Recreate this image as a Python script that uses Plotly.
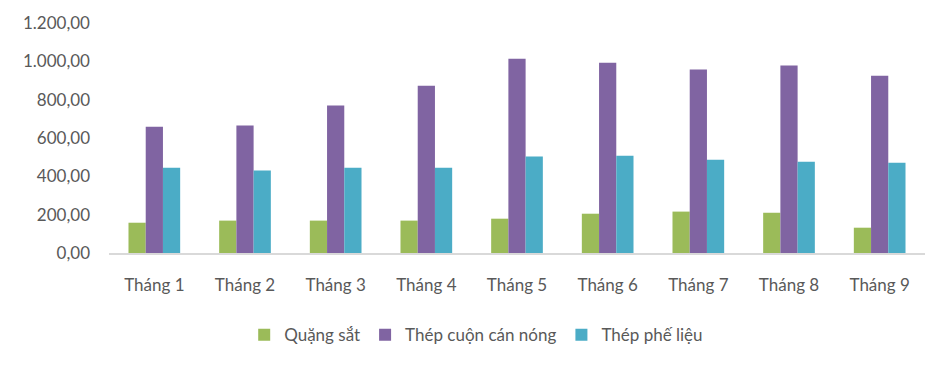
import plotly.graph_objects as go

months = ["Tháng 1", "Tháng 2", "Tháng 3", "Tháng 4", "Tháng 5", "Tháng 6", "Tháng 7", "Tháng 8", "Tháng 9"]
quang_sat = [158, 169, 169, 169, 179, 205, 216, 210, 132]
thep_cuon = [659, 665, 769, 873, 1014, 993, 957, 978, 925]
thep_phe_lieu = [445, 430, 445, 445, 503, 508, 487, 476, 471]

series = [
    ("Quặng sắt", quang_sat, "#9BBB59"),
    ("Thép cuộn cán nóng", thep_cuon, "#8064A2"),
    ("Thép phế liệu", thep_phe_lieu, "#4BACC6"),
]

fig = go.Figure()
for name, vals, color in series:
    fig.add_trace(go.Bar(x=months, y=vals, name=name, marker_color=color, marker_line_width=0))

font = "Lato, 'Open Sans', sans-serif"
fig.update_layout(
    width=948, height=365,
    margin=dict(l=109, r=23, t=23, b=112, autoexpand=False),
    paper_bgcolor="white", plot_bgcolor="white",
    barmode="group", bargap=0.43, bargroupgap=0,
    separators=",.",
    font=dict(family=font, size=17, color="#595959"),
    showlegend=True,
    legend=dict(orientation="h", x=0.45, xanchor="center", y=-0.357, yanchor="middle",
                font=dict(size=17, color="#595959"), itemwidth=30),
    xaxis=dict(showline=True, linecolor="#D9D9D9", linewidth=2, showgrid=False,
               ticks="", ticklabelstandoff=16, tickfont=dict(size=17), automargin=False),
    yaxis=dict(range=[0, 1200], dtick=200, tickformat=",.2f", showgrid=False,
               showline=False, zeroline=False, ticks="", ticklabelstandoff=18,
               tickfont=dict(size=17), automargin=False),
)

fig.write_html("out.html")
